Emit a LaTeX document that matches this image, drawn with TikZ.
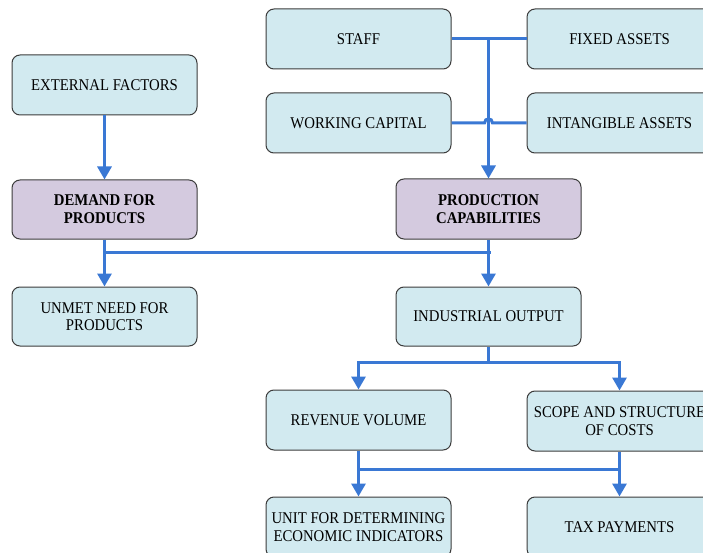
\documentclass[tikz,border=0pt]{standalone}
\usepackage{fontspec}
\setmainfont{Liberation Serif}[FakeStretch=0.9]
\usetikzlibrary{arrows.meta}
\definecolor{boxblue}{RGB}{210,234,240}
\definecolor{boxpurple}{RGB}{212,202,223}
\definecolor{linkblue}{RGB}{58,120,212}
\definecolor{edgegray}{RGB}{60,60,60}
\tikzset{
  box/.style={rectangle, rounded corners=8pt, draw=edgegray, line width=1pt,
    fill=boxblue, minimum width=185pt, minimum height=60pt, align=center,
    inner sep=0pt, font=\fontsize{16.4pt}{17.7pt}\selectfont},
  keybox/.style={box, fill=boxpurple, font=\fontsize{16.4pt}{17.7pt}\selectfont\bfseries},
  conn/.style={draw=linkblue, line width=3pt},
  arrowconn/.style={conn, -{Triangle[width=14pt,length=13pt]}},
}
\begin{document}
\begin{tikzpicture}[x=1pt,y=-1pt]
\useasboundingbox (0,0) rectangle (703,553);
\clip (0,0) rectangle (703,553);
\fill[white] (0,0) rectangle (703,553);

\node[box] (ext) at (104.5,85) {EXTERNAL FACTORS};
\node[keybox, minimum height=59pt] (demand) at (104.5,209.5) {DEMAND FOR\\PRODUCTS};
\node[box, minimum height=59pt] (unmet) at (104.5,316.5) {UNMET NEED FOR\\PRODUCTS};

\node[box] (staff) at (358.5,39) {STAFF};
\node[box] (fixed) at (619.5,39) {FIXED ASSETS};
\node[box] (wc) at (358.5,123) {WORKING CAPITAL};
\node[box] (intan) at (619.5,123) {INTANGIBLE ASSETS};

\node[keybox] (prod) at (488.5,209) {PRODUCTION\\CAPABILITIES};
\node[box, minimum height=59pt] (ind) at (488.5,316.5) {INDUSTRIAL OUTPUT};

\node[box] (rev) at (358.5,420) {REVENUE VOLUME};
\node[box] (scope) at (619.5,421) {SCOPE AND STRUCTURE\\OF COSTS};
\node[box] (unit) at (358.5,527) {UNIT FOR DETERMINING\\ECONOMIC INDICATORS};
\node[box] (tax) at (619.5,527) {TAX PAYMENTS};

% top inputs
\draw[conn] (staff.east) -- (fixed.west);
\draw[conn] (wc.east) -- (484.5,123) .. controls (484.5,117.5) and (492.5,117.5) .. (492.5,123) -- (intan.west);
\draw[arrowconn] (prod.north |- staff.east) -- (prod.north);

% left column
\draw[arrowconn] (ext.south) -- (demand.north);
\coordinate (j1) at (104.5,252);
\coordinate (j2) at (491,252);
\draw[conn] (demand.south) -- (j1) -- (j2);
\draw[arrowconn] (j1) -- (unmet.north);
\draw[arrowconn] (prod.south) -- (ind.north);

% industrial output split
\coordinate (k) at (488.5,362);
\draw[conn] (ind.south) -- (k);
\draw[arrowconn] (k) -| (rev.north);
\draw[arrowconn] (k) -| (scope.north);

% bottom
\coordinate (m1) at (358.5,469);
\coordinate (m2) at (619.5,469);
\draw[conn] (m1) -- (m2);
\draw[arrowconn] (rev.south) -- (unit.north);
\draw[arrowconn] (scope.south) -- (tax.north);
\end{tikzpicture}
\end{document}
